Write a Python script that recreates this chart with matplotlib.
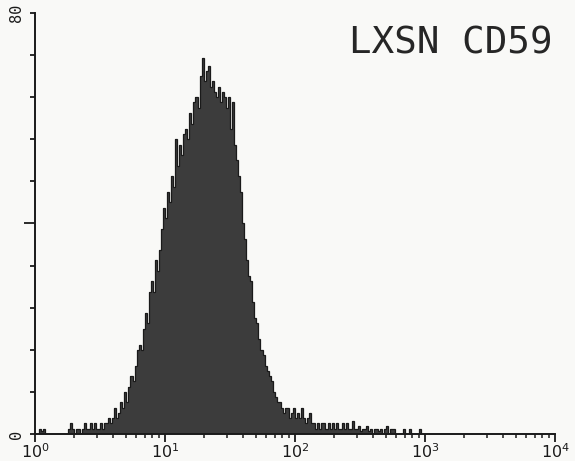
import numpy as np
import matplotlib
matplotlib.use("Agg")
import matplotlib.pyplot as plt
from matplotlib.ticker import LogLocator, NullFormatter, FixedLocator

plt.rcParams["mathtext.fontset"] = "custom"
plt.rcParams["mathtext.rm"] = "DejaVu Sans Mono"
plt.rcParams["mathtext.it"] = "DejaVu Sans Mono"

# ---- data (channel counts, 256 log-spaced channels over 10^0..10^4) ----
counts = [
    0, 0, 1, 0.5, 1, 0, 0, 0, 0, 0, 0, 0, 0, 0, 0, 0,            # 0-15
    1, 2, 1, 0, 1, 1, 0, 1, 2, 1, 1, 2, 1, 2, 1, 1,              # 16-31
    2, 1, 2, 2, 3, 2, 3, 5, 3, 4, 6, 5, 8, 6, 9, 11,             # 32-47
    10, 13, 16, 17, 16, 20, 23, 21, 27, 29, 27, 33, 31, 35, 39, 43,  # 48-63
    41, 46, 44, 49, 47, 56, 51, 55, 53, 57, 58, 56, 61, 59, 63, 64,  # 64-79
    62, 68, 71.5, 67, 69, 70, 66, 67, 65, 64, 66, 63, 65, 64, 62, 64,  # 80-95
    58, 63, 55, 52, 49, 46, 40, 37, 33, 30, 29, 25, 22, 21, 18, 16,  # 96-111
    15, 13, 12, 11, 10, 8, 7, 6, 6, 5, 4, 5, 5, 3, 4, 5,         # 112-127
    3, 4, 3, 5, 3, 2, 3, 4, 2, 2, 1, 2, 1, 2, 2, 1,              # 128-143
    2, 1, 2, 1, 2, 1, 1, 2, 1, 2, 1, 1, 2.5, 1, 1, 1.5,          # 144-159
    0.5, 1, 1, 1.5, 0.5, 1, 0, 1, 1, 0.5, 1, 0, 1, 1.5, 0, 1,    # 160-175
    1, 0, 0, 0, 0, 1, 0, 0, 1, 0, 0, 0, 0, 1, 0, 0,              # 176-191
] + [0] * 64                                                      # 192-255

x_tick_values = [1, 10, 100, 1000, 10000]
x_tick_labels = [r"$\mathregular{10^{0}}$", r"$\mathregular{10^{1}}$",
                 r"$\mathregular{10^{2}}$", r"$\mathregular{10^{3}}$",
                 r"$\mathregular{10^{4}}$"]
y_min, y_max = 0, 80
title_text = "LXSN CD59"

# ---- figure ----
W, H = 575, 461
fig = plt.figure(figsize=(W / 100, H / 100), dpi=100, facecolor="#f9f9f7")
ax = fig.add_axes([35 / W, 1 - 434 / H, 520 / W, 421 / H])
ax.set_facecolor("#f9f9f7")

edges = np.logspace(0, 4, len(counts) + 1)
ax.stairs(counts, edges, fill=True, color="#3c3c3c", linewidth=0)
ax.stairs(counts, edges, fill=False, color="#1a1a1a", linewidth=0.9)

ax.set_xscale("log")
ax.set_xlim(1, 10000)
ax.set_ylim(y_min, y_max)

for s in ["top", "right"]:
    ax.spines[s].set_visible(False)
for s in ["left", "bottom"]:
    ax.spines[s].set_linewidth(1.4)
    ax.spines[s].set_color("#1a1a1a")

# x ticks
ax.xaxis.set_major_locator(FixedLocator(x_tick_values))
ax.set_xticklabels(x_tick_labels, fontsize=11.5, color="#1a1a1a")
ax.xaxis.set_minor_locator(LogLocator(base=10, subs=np.arange(2, 10)))
ax.xaxis.set_minor_formatter(NullFormatter())
ax.tick_params(axis="x", which="major", direction="out", length=6, width=1.3,
               color="#1a1a1a", pad=0)
ax.tick_params(axis="x", which="minor", direction="out", length=3, width=1.1,
               color="#1a1a1a")

# y ticks
ax.yaxis.set_major_locator(FixedLocator([40]))
ax.yaxis.set_minor_locator(FixedLocator([v for v in range(y_min, y_max + 1, 8) if v != 40]))
ax.yaxis.set_major_formatter(NullFormatter())
ax.tick_params(axis="y", which="major", direction="out", length=8, width=1.3, color="#1a1a1a")
ax.tick_params(axis="y", which="minor", direction="out", length=3.5, width=1.3, color="#1a1a1a")

# y end labels (rotated plotter style)
ax.text(-0.036, 1.0, str(y_max), transform=ax.transAxes, rotation=90,
        ha="center", va="center", family="DejaVu Sans Mono", fontsize=11, color="#1a1a1a")
ax.text(-0.036, 0.0, str(y_min), transform=ax.transAxes, rotation=90,
        ha="center", va="center", family="DejaVu Sans Mono", fontsize=11, color="#1a1a1a")

# title
fig.text(553 / W, 1 - 53 / H, title_text, ha="right", va="baseline",
         family="DejaVu Sans Mono", fontsize=27, color="#262626")

fig.savefig("out.png", dpi=100, facecolor=fig.get_facecolor())
